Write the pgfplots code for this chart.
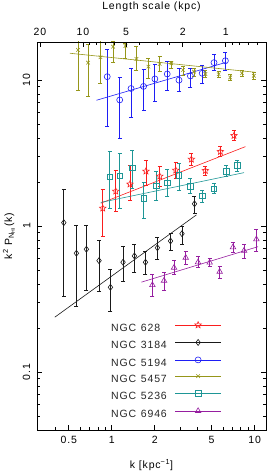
\documentclass[border=0pt]{standalone}
\usepackage{fontspec}
\setmainfont{Liberation Sans}[LetterSpace=8]
\usepackage{pgfplots}
\pgfplotsset{compat=1.18}
\usepackage{pgfplotstable}
\usetikzlibrary{plotmarks}
\definecolor{cred}{RGB}{250,30,30}
\definecolor{cblk}{RGB}{25,25,25}
\definecolor{cblu}{RGB}{30,30,245}
\definecolor{colv}{RGB}{150,150,25}
\definecolor{ctea}{RGB}{30,150,150}
\definecolor{cpur}{RGB}{150,30,160}
\pgfdeclareplotmark{ostar}{%
  \pgfpathmoveto{\pgfpointpolar{90}{\pgfplotmarksize}}%
  \pgfpathlineto{\pgfpointpolar{126}{0.45\pgfplotmarksize}}%
  \pgfpathlineto{\pgfpointpolar{162}{\pgfplotmarksize}}%
  \pgfpathlineto{\pgfpointpolar{198}{0.45\pgfplotmarksize}}%
  \pgfpathlineto{\pgfpointpolar{234}{\pgfplotmarksize}}%
  \pgfpathlineto{\pgfpointpolar{270}{0.45\pgfplotmarksize}}%
  \pgfpathlineto{\pgfpointpolar{306}{\pgfplotmarksize}}%
  \pgfpathlineto{\pgfpointpolar{342}{0.45\pgfplotmarksize}}%
  \pgfpathlineto{\pgfpointpolar{18}{\pgfplotmarksize}}%
  \pgfpathlineto{\pgfpointpolar{54}{0.45\pgfplotmarksize}}%
  \pgfpathclose\pgfusepathqstroke}
\pgfplotstableread{
k p hi lo
0.865 1.322 1.792 0.854
1.066 1.729 2.419 1.253
1.342 1.933 2.617 1.507
1.735 2.370 2.802 1.909
2.166 2.190 2.548 1.858
2.803 2.407 2.731 2.121
3.608 2.863 3.147 2.617
4.520 2.392 2.548 2.235
5.755 3.228 3.531 2.984
7.164 4.154 4.545 3.839
}\ngcA
\pgfplotstableread{
k p hi lo
0.462 1.053 1.784 0.331
0.566 0.650 1.016 0.283
0.665 0.692 1.016 0.359
0.815 0.578 0.802 0.355
0.979 0.380 0.505 0.259
1.200 0.564 0.721 0.415
1.441 0.623 0.753 0.479
1.721 0.564 0.667 0.469
2.087 0.709 0.830 0.594
2.578 0.789 0.882 0.685
3.101 0.885 1.000 0.749
3.793 1.419 1.605 1.218
}\ngcB
\pgfplotstableread{
k p hi lo
0.930 10.53 16.23 4.79
1.137 7.30 10.48 3.99
1.365 8.74 11.95 5.54
1.669 9.03 11.77 6.23
2.004 10.16 12.87 7.10
2.444 10.99 13.35 8.48
2.955 9.97 12.03 8.32
3.550 10.65 12.03 8.96
4.295 11.11 12.67 9.54
5.193 13.14 14.91 11.71
6.240 13.54 15.38 11.71
}\ngcC
\pgfplotstableread{
k p hi lo
0.581 16.05 22.0 8.45
0.683 13.14 17.65 7.68
0.834 14.31 20.0 9.49
1.021 16.90 18.5 13.14
1.247 17.10 17.84 14.08
1.488 13.93 16.91 11.58
1.806 12.34 14.08 10.27
2.166 12.87 14.44 11.40
2.616 13.01 13.49 12.03
3.152 11.71 12.47 10.82
3.763 11.40 12.03 10.65
4.520 10.99 11.58 10.43
5.600 10.94 11.50 10.40
6.740 10.40 10.90 9.95
8.140 11.11 11.70 10.50
9.870 10.68 11.30 10.10
}\ngcD
\pgfplotstableread{
k p hi lo
0.968 2.176 3.228 1.322
1.137 2.211 3.147 1.322
1.396 2.508 3.316 1.812
1.674 1.548 1.980 1.129
2.054 1.879 2.381 1.507
2.452 1.970 2.445 1.605
2.955 2.218 2.688 1.765
3.556 1.870 2.121 1.675
4.295 1.605 1.765 1.444
5.193 1.792 1.961 1.675
6.341 2.370 2.588 2.176
7.580 2.597 2.832 2.355
}\ngcE
\pgfplotstableread{
k p hi lo
1.925 0.394 0.462 0.328
2.321 0.422 0.479 0.359
2.728 0.518 0.585 0.462
3.293 0.606 0.667 0.547
4.013 0.564 0.616 0.518
4.845 0.561 0.601 0.526
5.690 0.486 0.532 0.438
7.050 0.715 0.773 0.656
8.420 0.677 0.753 0.601
10.28 0.811 0.954 0.667
}\ngcF
\pgfplotsset{
  ebar/.style={only marks, mark options={line width=0.6pt, solid},
    error bars/y dir=both, error bars/y explicit,
    error bars/error bar style={line width=0.8pt},
    error bars/error mark options={rotate=90, line width=0.8pt, mark size=2pt}},
  fitl/.style={line width=0.6pt, forget plot},
}
\begin{document}
\fontsize{10.5}{12}\selectfont
\begin{tikzpicture}
\begin{axis}[name=main, at={(0,0)}, anchor=south west,
  width=229pt, height=388pt, scale only axis,
  font=\fontsize{10.5}{12}\selectfont,
  /pgf/number format/assume math mode=true,
  xmode=log, ymode=log, xmin=0.3, xmax=12, ymin=0.04, ymax=18.2,
  axis line style={line width=0.8pt, black},
  tick style={line width=0.7pt, black},
  tick align=inside, major tick length=5pt, minor tick length=2.7pt,
  xtick pos=bottom,
  xtick={0.5,1,2,5,10}, xticklabels={0.5,1,2,5,10},
  minor xtick={0.4,0.6,0.7,0.8,0.9,3,4,6,7,8,9},
  ytick={0.1,1,10}, yticklabels={0.1,1,10},
  minor ytick={0.05,0.06,0.07,0.08,0.09,0.2,0.3,0.4,0.5,0.6,0.7,0.8,0.9,2,3,4,5,6,7,8,9},
  xticklabel style={anchor=center, yshift=-10pt},
  yticklabel style={rotate=90, anchor=south},
  yticklabel shift=3pt,
  xlabel={k [kpc\textsuperscript{−1}]},
  xlabel style={at={(axis description cs:0.5,0)}, anchor=center, yshift=-35pt},
  ylabel={k\textsuperscript{2} P\textsubscript{N\textsubscript{HI}}(k)},
  ylabel style={at={(axis description cs:-0.1223,0.5)}, anchor=center},
  legend plot pos=right, legend cell align=left,
  legend style={draw=none, fill=none, at={(rel axis cs:0.31,0.285)}, anchor=north west,
    nodes={inner sep=0pt, text height=7.5pt, text depth=2pt, text=black!85},
    row sep=6.1pt, column sep=8pt},
  legend image code/.code={\draw[mark repeat=2, mark phase=2, #1, sharp plot, line width=0.6pt] plot coordinates {(0pt,3.6pt) (23pt,3.6pt) (46pt,3.6pt)};},
]
\addplot[cred, mark=ostar, mark size=3.4pt, ebar] table[x=k, y=p, y error plus expr=\thisrow{hi}-\thisrow{p}, y error minus expr=\thisrow{p}-\thisrow{lo}] \ngcA;
\addlegendentry{NGC\hspace{0.45em}628}
\addplot[cred, fitl] coordinates {(0.838,1.431) (8.61,3.493)};
\addplot[cblk, mark=diamond, mark size=3pt, ebar] table[x=k, y=p, y error plus expr=\thisrow{hi}-\thisrow{p}, y error minus expr=\thisrow{p}-\thisrow{lo}] \ngcB;
\addlegendentry{NGC\hspace{0.45em}3184}
\addplot[cblk, fitl] coordinates {(0.3995,0.237) (3.911,1.190)};
\addplot[cblu, mark=o, mark size=3pt, ebar] table[x=k, y=p, y error plus expr=\thisrow{hi}-\thisrow{p}, y error minus expr=\thisrow{p}-\thisrow{lo}] \ngcC;
\addlegendentry{NGC\hspace{0.45em}5194}
\addplot[cblu, fitl] coordinates {(0.782,7.26) (6.34,13.22)};
\addplot[colv, mark=x, mark size=2.5pt, ebar] table[x=k, y=p, y error plus expr=\thisrow{hi}-\thisrow{p}, y error minus expr=\thisrow{p}-\thisrow{lo}] \ngcD;
\addlegendentry{NGC\hspace{0.45em}5457}
\addplot[colv, fitl] coordinates {(0.509,15.24) (10.11,11.29)};
\addplot[ctea, mark=square, mark size=2.7pt, ebar] table[x=k, y=p, y error plus expr=\thisrow{hi}-\thisrow{p}, y error minus expr=\thisrow{p}-\thisrow{lo}] \ngcE;
\addlegendentry{NGC\hspace{0.45em}5236}
\addplot[ctea, fitl] coordinates {(0.838,1.449) (8.42,2.318)};
\addplot[cpur, mark=triangle, mark size=3.2pt, ebar] table[x=k, y=p, y error plus expr=\thisrow{hi}-\thisrow{p}, y error minus expr=\thisrow{p}-\thisrow{lo}] \ngcF;
\addlegendentry{NGC\hspace{0.45em}6946}
\addplot[cpur, fitl] coordinates {(1.613,0.412) (10.55,0.721)};
\end{axis}
\begin{axis}[at={(0,0)}, anchor=south west,
  width=229pt, height=388pt, scale only axis,
  font=\fontsize{10.5}{12}\selectfont,
  /pgf/number format/assume math mode=true,
  xmode=log, xmin=0.3, xmax=12, ymin=0, ymax=1,
  axis x line*=top, axis y line=none,
  axis line style={line width=0.8pt, black},
  tick style={line width=0.7pt, black},
  tick align=inside, major tick length=5pt, minor tick length=2.7pt,
  xtick={0.314159,0.628319,1.256637,3.141593,6.283185},
  xticklabels={20,10,5,2,1},
  minor xtick={0.698132,0.785398,0.897598,1.047198,1.570796,2.094395,2.513274,4.188790,6.981317,7.853982,8.975979,10.471976},
  xticklabel style={anchor=center, yshift=10pt},
  xlabel={Length scale (kpc)},
  xlabel style={at={(axis description cs:0.5,1)}, anchor=center, yshift=35pt},
]
\addplot[draw=none, forget plot] coordinates {(1,0.5)};
\end{axis}
\pgfresetboundingbox
\path[use as bounding box] (-37pt,-41pt) rectangle (230pt,430pt);
\end{tikzpicture}
\end{document}
